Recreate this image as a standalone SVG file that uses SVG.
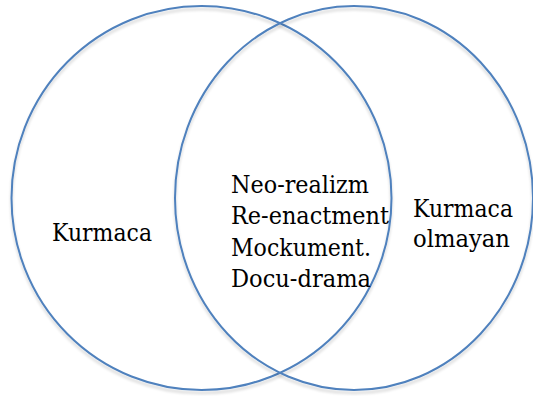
<svg xmlns="http://www.w3.org/2000/svg" width="533" height="396" viewBox="0 0 533 396">
  <defs>
    <filter id="shadow" x="-10%" y="-10%" width="120%" height="120%">
      <feGaussianBlur in="SourceAlpha" stdDeviation="1.5" result="b"/>
      <feOffset dx="0" dy="2.5" result="o"/>
      <feComponentTransfer in="o" result="s">
        <feFuncA type="linear" slope="0.18"/>
      </feComponentTransfer>
      <feMerge>
        <feMergeNode in="s"/>
        <feMergeNode in="SourceGraphic"/>
      </feMerge>
    </filter>
  </defs>
  <style>
    .circle { fill: none; stroke: #4F81BD; stroke-width: 2; filter: url(#shadow); }
    .lbl { font-family: "DejaVu Serif", "Liberation Serif", serif; font-size: 24px; fill: #000; }
  </style>
  <rect width="533" height="396" fill="#fff"/>
  <g id="left-set">
    <ellipse class="circle" cx="201.5" cy="198" rx="190" ry="192"/>
    <text class="lbl" x="52" y="240.5" textLength="100" lengthAdjust="spacingAndGlyphs">Kurmaca</text>
  </g>
  <g id="right-set">
    <ellipse class="circle" cx="354" cy="198" rx="179" ry="192"/>
    <text class="lbl" x="413" y="216.7" textLength="100" lengthAdjust="spacingAndGlyphs">Kurmaca</text>
    <text class="lbl" x="413" y="246.7" textLength="97" lengthAdjust="spacingAndGlyphs">olmayan</text>
  </g>
  <g id="intersection">
    <text class="lbl" x="231" y="192.5" textLength="138" lengthAdjust="spacingAndGlyphs">Neo-realizm</text>
    <text class="lbl" x="231" y="224" textLength="158" lengthAdjust="spacingAndGlyphs">Re-enactment</text>
    <text class="lbl" x="231" y="255.5" textLength="140" lengthAdjust="spacingAndGlyphs">Mockument.</text>
    <text class="lbl" x="231" y="287" textLength="140" lengthAdjust="spacingAndGlyphs">Docu-drama</text>
  </g>
  <g id="connectors"/>
</svg>
